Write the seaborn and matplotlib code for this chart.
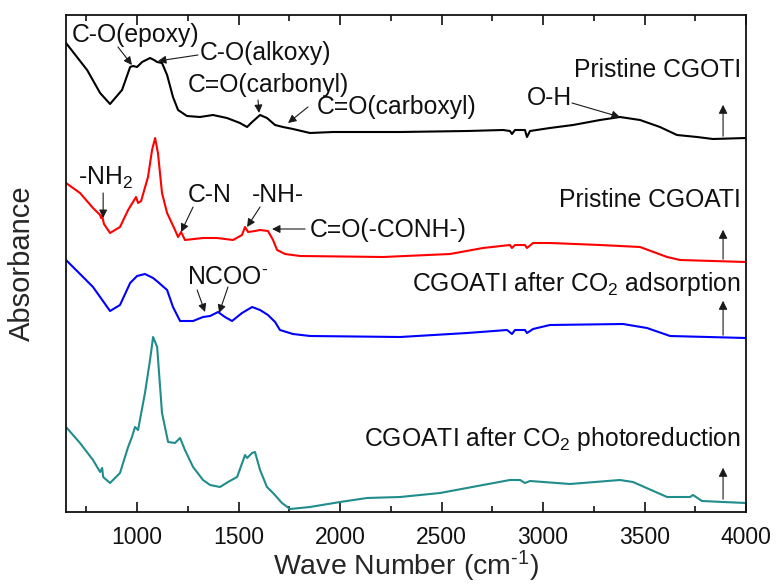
import numpy as np
import pandas as pd
import matplotlib
matplotlib.use("Agg")
import matplotlib.pyplot as plt
import seaborn as sns

# ---------------- data (wavenumber cm-1, offset absorbance a.u.) ----------------
series_names = ["Pristine CGOTI", "Pristine CGOATI",
                "CGOATI after CO$_2$ adsorption", "CGOATI after CO$_2$ photoreduction"]
series_colors = ["#000000", "#ff0000", "#0000ff", "#208c8c"]

wn_cgoti = [650, 754, 818, 867, 926, 966, 980, 1000, 1025, 1064, 1084, 1099, 1123, 1148,
            1177, 1202, 1246, 1310, 1374, 1443, 1507, 1542, 1567, 1606, 1640, 1680, 1719,
            1768, 1852, 1966, 2296, 2626, 2803, 2837, 2847, 2862, 2911, 2921, 2936, 3034,
            3148, 3281, 3379, 3478, 3576, 3660, 3759, 3837, 4000]
ab_cgoti = [4.69, 4.42, 4.19, 4.08, 4.22, 4.45, 4.46, 4.45, 4.50, 4.54, 4.52, 4.50, 4.49, 4.37,
            4.15, 4.02, 3.96, 3.95, 3.97, 3.94, 3.89, 3.85, 3.90, 3.97, 3.94, 3.87, 3.85,
            3.83, 3.79, 3.80, 3.80, 3.81, 3.82, 3.81, 3.78, 3.82, 3.82, 3.75, 3.81, 3.84,
            3.87, 3.92, 3.95, 3.92, 3.85, 3.77, 3.75, 3.73, 3.74]

wn_cgoati = [650, 719, 783, 818, 823, 828, 837, 867, 916, 956, 980, 995, 1005, 1020, 1054,
             1074, 1089, 1103, 1123, 1148, 1187, 1202, 1217, 1236, 1325, 1394, 1473, 1517,
             1532, 1547, 1581, 1606, 1645, 1670, 1690, 1729, 1803, 2212, 2542, 2704, 2837,
             2847, 2862, 2911, 2921, 2951, 3034, 3281, 3478, 3611, 3675, 4000]
ab_cgoati = [3.29, 3.19, 3.04, 2.97, 2.94, 2.96, 2.88, 2.79, 2.85, 3.02, 3.10, 3.15, 3.09, 3.11, 3.35,
             3.62, 3.74, 3.59, 3.19, 2.99, 2.82, 2.75, 2.80, 2.72, 2.74, 2.74, 2.72, 2.77,
             2.85, 2.80, 2.81, 2.82, 2.81, 2.72, 2.62, 2.58, 2.56, 2.55, 2.58, 2.64, 2.67,
             2.64, 2.67, 2.67, 2.64, 2.69, 2.69, 2.67, 2.65, 2.55, 2.52, 2.50]

wn_ads = [650, 734, 783, 867, 916, 966, 1000, 1039, 1079, 1103, 1148, 1177, 1212, 1276, 1325,
          1360, 1399, 1433, 1468, 1517, 1567, 1606, 1645, 1680, 1704, 1768, 1852, 2296, 2626,
          2823, 2847, 2862, 2911, 2921, 2951, 3034, 3394, 3512, 3626, 4000]
ab_ads = [2.52, 2.35, 2.25, 2.01, 2.07, 2.29, 2.36, 2.38, 2.34, 2.30, 2.22, 2.05, 1.91, 1.91, 1.95,
          1.96, 2.00, 1.95, 1.91, 1.99, 2.05, 2.02, 1.97, 1.90, 1.82, 1.78, 1.76, 1.75, 1.79,
          1.82, 1.78, 1.82, 1.82, 1.79, 1.83, 1.87, 1.88, 1.84, 1.76, 1.74]

wn_photo = [650, 719, 783, 818, 828, 833, 867, 916, 956, 975, 990, 1005, 1039, 1064, 1079, 1099,
            1123, 1153, 1187, 1212, 1236, 1276, 1325, 1360, 1409, 1448, 1493, 1532, 1542, 1567,
            1581, 1606, 1640, 1670, 1714, 1754, 1852, 2000, 2133, 2296, 2493, 2704, 2837, 2887,
            2911, 2936, 3133, 3379, 3443, 3611, 3724, 3739, 3783, 3887, 4000]
ab_photo = [0.85, 0.69, 0.52, 0.40, 0.44, 0.35, 0.29, 0.39, 0.65, 0.75, 0.85, 0.82, 1.19, 1.52, 1.75, 1.65,
            0.99, 0.70, 0.69, 0.74, 0.62, 0.45, 0.32, 0.27, 0.25, 0.30, 0.35, 0.57, 0.54, 0.59,
            0.60, 0.42, 0.25, 0.19, 0.09, 0.03, 0.05, 0.10, 0.14, 0.15, 0.19, 0.27, 0.32, 0.32,
            0.29, 0.31, 0.28, 0.32, 0.30, 0.15, 0.15, 0.17, 0.11, 0.10, 0.09]

# scale-bar arrows (wavenumber, base, top)
bar_wn = 3887
bar_base = [3.73, 2.50, 1.74, 0.10]
bar_top = [4.10, 2.85, 2.14, 0.47]

# series labels (right aligned) y-positions
label_x = 3975
label_y = [4.42, 3.12, 2.28, 0.73]

# peak annotations: text, text pos, arrow tail, arrow tip
ann_text = ["C-O(epoxy)", "C-O(alkoxy)", "C=O(carbonyl)", "C=O(carboxyl)", "O-H",
            "-NH$_2$", "C-N", "-NH-", "C=O(-CONH-)", "NCOO$^{\u2010}$"]
ann_xy = [(680, 4.77), (1310, 4.59), (1251, 4.27), (1887, 4.05), (2921, 4.14),
          (709, 3.34), (1251, 3.17), (1567, 3.17), (1852, 2.82), (1246, 2.35)]
arrow_tail = [(906, 4.65), (1300, 4.57), (1596, 4.12), (1842, 4.05), (3143, 4.09),
              (833, 3.19), (1276, 3.05), (1606, 3.05), (1828, 2.83), (1296, 2.22), (1448, 2.25)]
arrow_tip = [(975, 4.47), (1103, 4.51), (1601, 3.99), (1744, 3.89), (3379, 3.95),
             (833, 2.94), (1217, 2.80), (1542, 2.85), (1665, 2.83), (1335, 2.00), (1404, 1.99)]

# ---------------- build long table ----------------
frames = []
for name, wn, ab in zip(series_names, [wn_cgoti, wn_cgoati, wn_ads, wn_photo],
                        [ab_cgoti, ab_cgoati, ab_ads, ab_photo]):
    frames.append(pd.DataFrame({"wn": wn, "ab": ab, "sample": name}))
df = pd.concat(frames, ignore_index=True)

sns.set_theme(style="ticks")
plt.rcParams["font.family"] = ["Liberation Sans", "DejaVu Sans"]
plt.rcParams["mathtext.fontset"] = "custom"
plt.rcParams["mathtext.rm"] = "Liberation Sans"
plt.rcParams["mathtext.it"] = "Liberation Sans:italic"
plt.rcParams["mathtext.bf"] = "Liberation Sans:bold"

fig = plt.figure(figsize=(7.76, 5.87), dpi=100)
ax = fig.add_axes([66 / 776, 1 - 512 / 587, (746 - 66) / 776, (512 - 15) / 587])

sns.lineplot(data=df, x="wn", y="ab", hue="sample", palette=series_colors,
             hue_order=series_names, estimator=None, sort=False, lw=1.5,
             legend=False, ax=ax)

ax.set_xlim(650, 4000)
ax.set_ylim(0, 4.97)
ax.set_xticks(np.arange(1000, 4001, 500))
ax.set_xticks(np.arange(750, 4000, 250), minor=True)
ax.set_yticks([])
ax.tick_params(axis="x", which="both", direction="in", top=True, width=1.2,
               labelsize=16.5, pad=10, colors="#111111")
ax.tick_params(axis="x", which="major", length=7)
ax.tick_params(axis="x", which="minor", length=4)
for s in ax.spines.values():
    s.set_linewidth(1.3)
    s.set_color("#111111")

ax.set_xlabel("Wave Number (cm$^{\u20101}$)", fontsize=20.5, labelpad=0)
ax.set_ylabel("Absorbance", fontsize=21, labelpad=22)

for name, y in zip(series_names, label_y):
    ax.text(label_x, y, name, ha="right", va="center", fontsize=17.8, color="#111111")

for b, t in zip(bar_base, bar_top):
    ax.annotate("", xy=(bar_wn, t), xytext=(bar_wn, b),
                arrowprops=dict(arrowstyle="-|>", color="k", lw=0.8, mutation_scale=13))

for txt, (tx, ty) in zip(ann_text, ann_xy):
    ax.text(tx, ty, txt, ha="left", va="center", fontsize=17.8, color="#111111")

for (x0, y0), (x1, y1) in zip(arrow_tail, arrow_tip):
    ax.annotate("", xy=(x1, y1), xytext=(x0, y0),
                arrowprops=dict(arrowstyle="-|>", color="k", lw=0.8, mutation_scale=12,
                                shrinkA=0, shrinkB=0))

fig.savefig("out.png", dpi=100)
